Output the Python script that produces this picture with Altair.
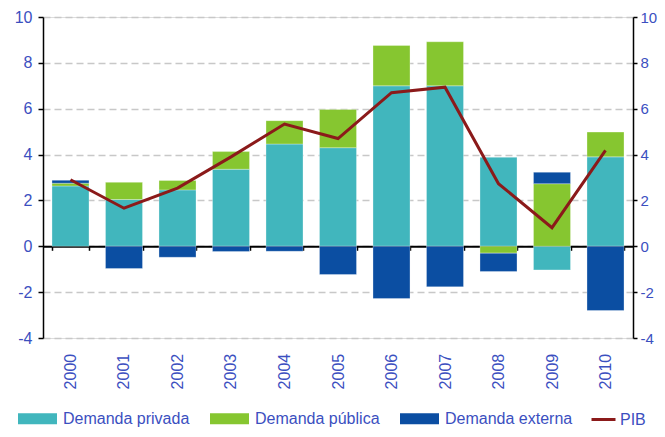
import altair as alt
import pandas as pd

years = ["2000", "2001", "2002", "2003", "2004", "2005", "2006", "2007", "2008", "2009", "2010"]
privada = [2.63, 2.04, 2.46, 3.36, 4.46, 4.30, 7.00, 7.00, 3.88, -1.03, 3.90]
publica = [0.12, 0.75, 0.41, 0.77, 1.02, 1.67, 1.76, 1.92, -0.30, 2.73, 1.08]
externa = [0.13, -0.97, -0.48, -0.23, -0.22, -1.23, -2.28, -1.77, -0.80, 0.50, -2.80]
pib = [2.90, 1.66, 2.54, 3.90, 5.33, 4.70, 6.70, 6.94, 2.73, 0.81, 4.18]
y_ticks = [-4, -2, 0, 2, 4, 6, 8, 10]

series = ["Demanda privada", "Demanda pública", "Demanda externa"]
bar_colors = ["#41B6BD", "#86C630", "#0B4EA2"]
line_color = "#8B1A1A"
label_color = "#3B4FBF"

rows = []
for i, y in enumerate(years):
    for k, (name, vals) in enumerate(zip(series, [privada, publica, externa])):
        rows.append({"year": y, "serie": name, "value": vals[i], "orden": k})
bars_df = pd.DataFrame(rows)
line_df = pd.DataFrame({"year": years, "pib": pib, "serie_l": ["PIB"] * len(years)})

H = 321
zero_offset = -(H - H * 10 / 14)

xscale = alt.Scale(paddingInner=0.308, paddingOuter=0.168)
yscale = alt.Scale(domain=[-4, 10], nice=False, zero=False)

bars = alt.Chart(bars_df).mark_bar(stroke="white", strokeWidth=0.5, strokeOpacity=0.6).encode(
    x=alt.X("year:N", scale=xscale, sort=years, title=None,
            axis=alt.Axis(offset=zero_offset, labelAngle=-90, labelAlign="right",
                          labelBaseline="middle", labelPadding=103, tickBand="extent",
                          ticks=True, tickSize=4, tickColor="black", tickWidth=1.5,
                          domainColor="black", domainWidth=2, labelFontSize=16,
                          labelColor=label_color, grid=False, labelFont="Liberation Sans")),
    y=alt.Y("value:Q", scale=yscale, stack="zero", title=None,
            axis=alt.Axis(orient="left", values=y_ticks, grid=True,
                          labelExpr="'' + datum.value",
                          gridColor="#C8C8C8", gridDash=[7, 4], gridWidth=1.5,
                          domainColor="black", domainWidth=1.5, tickColor="black",
                          tickWidth=1.5, tickSize=5, labelPadding=6, labelFontSize=16,
                          labelColor=label_color, labelFont="Liberation Sans")),
    color=alt.Color("serie:N", scale=alt.Scale(domain=series, range=bar_colors),
                    legend=alt.Legend(orient="none", legendX=-25, legendY=382,
                                      direction="horizontal", title=None,
                                      symbolType="M-1,-0.28L1,-0.28L1,0.28L-1,0.28Z",
                                      symbolSize=1521, symbolStrokeWidth=0,
                                      labelFontSize=16, labelColor=label_color,
                                      labelFont="Liberation Sans", labelOffset=6,
                                      columnPadding=20, padding=0)),
    order=alt.Order("orden:Q", sort="ascending"),
)

line = alt.Chart(line_df).mark_line(strokeWidth=3).encode(
    x=alt.X("year:N", sort=years, scale=xscale),
    y=alt.Y("pib:Q", scale=yscale, title=None,
            axis=alt.Axis(orient="right", values=y_ticks, grid=False,
                          labelExpr="'' + datum.value",
                          domainColor="black", domainWidth=1.5, tickColor="black",
                          tickWidth=1.5, tickSize=4, labelPadding=3, labelFontSize=15,
                          labelColor=label_color, labelFont="Liberation Sans")),
    stroke=alt.Stroke("serie_l:N", scale=alt.Scale(domain=["PIB"], range=[line_color]),
                      legend=alt.Legend(orient="none", legendX=547, legendY=389, title=None,
                                        symbolType="stroke", symbolSize=576,
                                        symbolStrokeWidth=3, labelFontSize=16,
                                        labelColor=label_color, labelFont="Liberation Sans",
                                        labelOffset=3, padding=0)),
)

chart = alt.layer(bars, line).resolve_scale(y="shared").resolve_axis(y="independent").properties(
    width=590, height=H,
    autosize=alt.AutoSizeParams(type="none"),
    padding={"left": 35, "top": 9, "right": 24, "bottom": 91},
).configure_view(stroke=None).configure(background="white")

chart.save("out.html", embed_options={"renderer": "svg", "actions": False})
